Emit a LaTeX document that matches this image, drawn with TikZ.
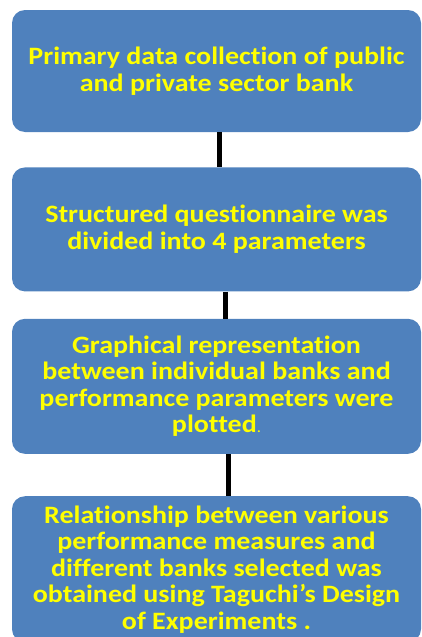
\documentclass[tikz,border=0pt]{standalone}
\usepackage{fontspec}
\setmainfont{Carlito}[FakeStretch=1.12, Ligatures=NoCommon]
\usepackage{tikz}
\usetikzlibrary{positioning}
\definecolor{boxblue}{RGB}{79,129,189}
\definecolor{boxtext}{RGB}{255,255,0}

\begin{document}
\begin{tikzpicture}[x=1pt, y=1pt, node distance=35pt,
      box/.style={rectangle, fill=boxblue, rounded corners=13pt,
                  minimum width=409pt, inner sep=0pt, align=center,
                  text=boxtext, font=\bfseries\fontsize{25pt}{26.5pt}\selectfont},
      link/.style={line width=5pt, black}]
    \useasboundingbox (0,0) rectangle (422,-637);
    \node[box, minimum height=122pt] (collect) at (216.5,-71)
      {Primary data collection of public\\ and private sector bank};
    \node[box, minimum height=124pt, below=35pt of collect] (quest)
      {Structured questionnaire was\\ divided into 4 parameters};
    \node[box, minimum height=135pt, below=27pt of quest] (graph)
      {Graphical representation\\ between individual banks and\\
       performance parameters were\\ plotted{\mdseries\fontsize{15pt}{15pt}\selectfont.}};
    \node[box, minimum height=146pt, below=42pt of graph] (taguchi)
      {Relationship between various\\ performance measures and\\
       different banks selected was\\ obtained using Taguchi’s Design\\
       of Experiments .};
    \draw[link] ([xshift=2.5pt]collect.south) -- ([xshift=2.5pt]quest.north);
    \draw[link] ([xshift=8.5pt]quest.south) -- ([xshift=8.5pt]graph.north);
    \draw[link] ([xshift=11.5pt]graph.south) -- ([xshift=11.5pt]taguchi.north);
  \end{tikzpicture}
\end{document}
